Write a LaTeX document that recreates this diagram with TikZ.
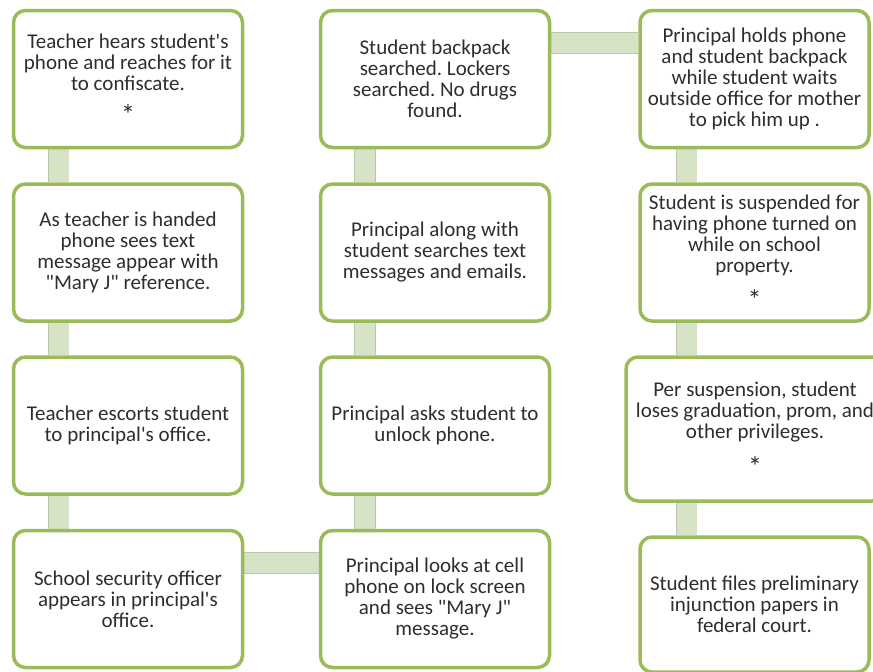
\documentclass[tikz,border=0pt]{standalone}
\usepackage{fontspec}
\setmainfont{Carlito}[Ligatures=TeXOff]
\usetikzlibrary{calc,backgrounds}
\definecolor{boxline}{HTML}{9BBB59}
\definecolor{barfill}{HTML}{D6E3C6}
\definecolor{barline}{HTML}{BAC8A8}
\definecolor{txt}{HTML}{2E2E2E}
% large asterisk on its own line below a box text
\newcommand{\starmark}{\\[13pt]{\fontsize{28}{21}\selectfont *}}
\begin{document}
\frenchspacing
\begin{tikzpicture}[x=1pt,y=-1pt,
  event/.style={draw=boxline, line width=3.5pt, rounded corners=12pt, fill=white,
    align=center, text=txt, font=\fontsize{21}{21}\selectfont\frenchspacing,
    minimum width=229pt, minimum height=137pt, inner sep=2pt},
  link/.style={draw=barline, line width=0.7pt, double=barfill, double distance=20pt}]
\useasboundingbox (0,0) rectangle (873,672);

% first column
\node[event] (t1) at (128,79) {Teacher hears student's\\phone and reaches for it\\to confiscate.\starmark};
\node[event] (t2) at (128,252.5) {As teacher is handed\\phone sees text\\message appear with\\"Mary J" reference.};
\node[event] (t3) at (128,425.5) {Teacher escorts student\\to principal's office.};
\node[event] (t4) at (128,599) {School security officer\\appears in principal's\\office.};

% second column
\node[event] (p1) at (435,79) {Student backpack\\searched. Lockers\\searched. No drugs\\found.};
\node[event] (p2) at (435,252.5) {Principal along with\\student searches text\\messages and emails.};
\node[event] (p3) at (435,425.5) {Principal asks student to\\unlock phone.};
\node[event] (p4) at (435,599) {Principal looks at cell\\phone on lock screen\\and sees "Mary J"\\message.};

% third column
\node[event] (s1) at (754.5,79) {Principal holds phone\\and student backpack\\while student waits\\outside office for mother\\to pick him up .};
\node[event] (s2) at (754.5,252.5) {Student is suspended for\\having phone turned on\\while on school\\property.\starmark};
\node[event, minimum width=258pt, minimum height=144pt] (s3) at (755,429) {Per suspension, student\\loses graduation, prom, and\\other privileges.\starmark};
\node[event, minimum height=135pt] (s4) at (754.5,604.5) {Student files preliminary\\injunction papers in\\federal court.};

% connecting bars behind the boxes
\begin{scope}[on background layer]
  \draw[link] ($(t1.south)+(-69.5,0)$) -- ($(t2.north)+(-69.5,0)$);
  \draw[link] ($(t2.south)+(-69.5,0)$) -- ($(t3.north)+(-69.5,0)$);
  \draw[link] ($(t3.south)+(-69.5,0)$) -- ($(t4.north)+(-69.5,0)$);
  \draw[link] ($(t4.east)+(0,-36)$) -- ($(p4.west)+(0,-36)$);
  \draw[link] ($(p4.north)+(-70,0)$) -- ($(p3.south)+(-70,0)$);
  \draw[link] ($(p3.north)+(-70,0)$) -- ($(p2.south)+(-70,0)$);
  \draw[link] ($(p2.north)+(-70,0)$) -- ($(p1.south)+(-70,0)$);
  \draw[link] ($(p1.east)+(0,-36)$) -- ($(s1.west)+(0,-36)$);
  \coordinate (cx) at ($(s1.south)+(-68,0)$);
  \draw[link] (cx) -- (s2.north -| cx);
  \draw[link] (s2.south -| cx) -- (s3.north -| cx);
  \draw[link] (s3.south -| cx) -- (s4.north -| cx);
\end{scope}
\end{tikzpicture}
\end{document}
